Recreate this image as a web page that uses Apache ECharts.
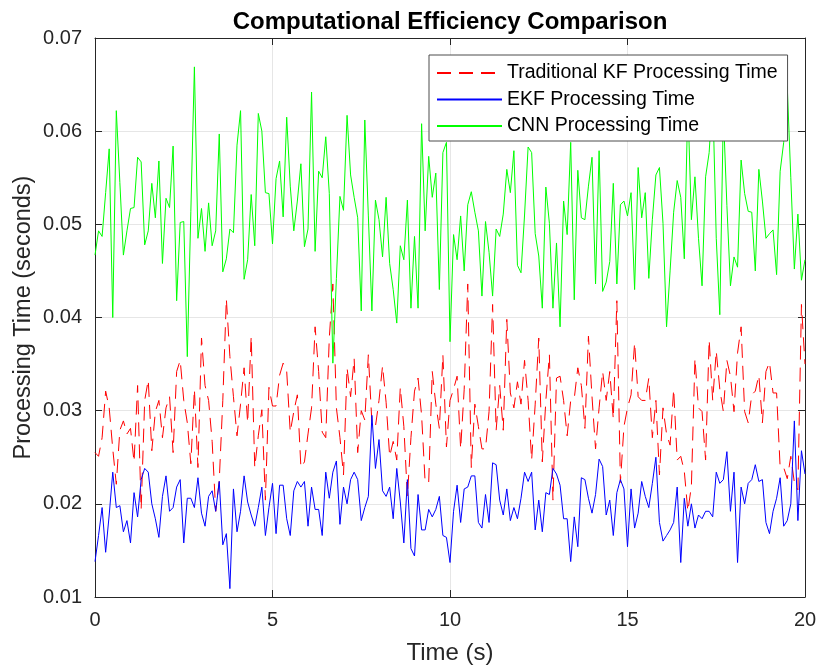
<!DOCTYPE html>
<html>
<head>
<meta charset="utf-8">
<title>Computational Efficiency Comparison</title>
<script src="https://cdn.jsdelivr.net/npm/echarts@6/dist/echarts.min.js"></script>
<style>
  html, body { margin: 0; padding: 0; background: #fff; }
  #chart { width: 819px; height: 665px; }
</style>
</head>
<body>
<div id="chart"></div>
<script>
// time grid: 0 .. 20 s, step 0.1 s
const timeSteps = Array.from({ length: 201 }, (_, i) => +(i * 0.1).toFixed(1));

const kfTimes = [
  0.0255, 0.0251, 0.0271, 0.0321, 0.0303, 0.0259, 0.0221, 0.0279, 0.0289, 0.0275,
  0.0281, 0.0245, 0.0327, 0.0194, 0.0311, 0.0333, 0.0257, 0.0299, 0.0311, 0.0271,
  0.0303, 0.0315, 0.0255, 0.0342, 0.0354, 0.0311, 0.0287, 0.0243, 0.0323, 0.0239,
  0.0378, 0.0327, 0.0311, 0.0267, 0.0192, 0.0225, 0.0311, 0.0420, 0.0358, 0.0315,
  0.0273, 0.0307, 0.0346, 0.0287, 0.0380, 0.0239, 0.0273, 0.0301, 0.0204, 0.0325,
  0.0305, 0.0305, 0.0338, 0.0351, 0.0342, 0.0277, 0.0299, 0.0317, 0.0239, 0.0245,
  0.0275, 0.0303, 0.0390, 0.0342, 0.0277, 0.0271, 0.0378, 0.0436, 0.0303, 0.0271,
  0.0231, 0.0346, 0.0315, 0.0356, 0.0255, 0.0300, 0.0290, 0.0360, 0.0287, 0.0283,
  0.0311, 0.0348, 0.0309, 0.0251, 0.0267, 0.0247, 0.0325, 0.0283, 0.0208, 0.0271,
  0.0321, 0.0335, 0.0295, 0.0223, 0.0223, 0.0342, 0.0307, 0.0281, 0.0360, 0.0261,
  0.0311, 0.0323, 0.0337, 0.0259, 0.0323, 0.0436, 0.0239, 0.0307, 0.0283, 0.0259,
  0.0259, 0.0299, 0.0414, 0.0279, 0.0327, 0.0279, 0.0398, 0.0319, 0.0303, 0.0331,
  0.0307, 0.0354, 0.0311, 0.0247, 0.0307, 0.0378, 0.0245, 0.0311, 0.0360, 0.0204,
  0.0335, 0.0337, 0.0311, 0.0273, 0.0311, 0.0313, 0.0346, 0.0327, 0.0281, 0.0380,
  0.0315, 0.0259, 0.0303, 0.0342, 0.0311, 0.0342, 0.0291, 0.0418, 0.0223, 0.0283,
  0.0303, 0.0317, 0.0373, 0.0315, 0.0311, 0.0311, 0.0335, 0.0271, 0.0311, 0.0231,
  0.0303, 0.0275, 0.0263, 0.0323, 0.0247, 0.0251, 0.0235, 0.0192, 0.0219, 0.0356,
  0.0303, 0.0299, 0.0247, 0.0376, 0.0311, 0.0364, 0.0323, 0.0299, 0.0354, 0.0337,
  0.0299, 0.0362, 0.0390, 0.0299, 0.0287, 0.0317, 0.0321, 0.0338, 0.0287, 0.0342,
  0.0352, 0.0319, 0.0319, 0.0239, 0.0239, 0.0227, 0.0251, 0.0223, 0.0215, 0.0414,
  0.0350
];

const ekfTimes = [
  0.0138, 0.0166, 0.0196, 0.0148, 0.0188, 0.0234, 0.0196, 0.0198, 0.0170, 0.0182,
  0.0158, 0.0212, 0.0186, 0.0226, 0.0238, 0.0234, 0.0200, 0.0184, 0.0164, 0.0208,
  0.0230, 0.0192, 0.0196, 0.0218, 0.0226, 0.0158, 0.0206, 0.0206, 0.0196, 0.0228,
  0.0190, 0.0176, 0.0208, 0.0214, 0.0192, 0.0224, 0.0156, 0.0168, 0.0109, 0.0216,
  0.0170, 0.0192, 0.0230, 0.0202, 0.0188, 0.0176, 0.0196, 0.0218, 0.0166, 0.0196,
  0.0222, 0.0168, 0.0220, 0.0220, 0.0184, 0.0166, 0.0214, 0.0224, 0.0218, 0.0224,
  0.0176, 0.0218, 0.0194, 0.0194, 0.0166, 0.0234, 0.0206, 0.0234, 0.0246, 0.0178,
  0.0218, 0.0200, 0.0226, 0.0234, 0.0226, 0.0182, 0.0196, 0.0208, 0.0295, 0.0238,
  0.0269, 0.0214, 0.0208, 0.0218, 0.0184, 0.0238, 0.0202, 0.0158, 0.0226, 0.0152,
  0.0144, 0.0210, 0.0172, 0.0172, 0.0194, 0.0186, 0.0194, 0.0208, 0.0166, 0.0164,
  0.0137, 0.0192, 0.0220, 0.0180, 0.0216, 0.0218, 0.0230, 0.0230, 0.0180, 0.0174,
  0.0210, 0.0180, 0.0244, 0.0242, 0.0204, 0.0188, 0.0216, 0.0182, 0.0196, 0.0184,
  0.0206, 0.0234, 0.0224, 0.0234, 0.0172, 0.0204, 0.0170, 0.0212, 0.0210, 0.0238,
  0.0232, 0.0220, 0.0184, 0.0184, 0.0138, 0.0186, 0.0154, 0.0228, 0.0226, 0.0206,
  0.0190, 0.0210, 0.0248, 0.0240, 0.0188, 0.0204, 0.0166, 0.0212, 0.0226, 0.0216,
  0.0154, 0.0216, 0.0174, 0.0190, 0.0224, 0.0208, 0.0196, 0.0222, 0.0250, 0.0180,
  0.0160, 0.0166, 0.0172, 0.0180, 0.0218, 0.0137, 0.0206, 0.0176, 0.0200, 0.0174,
  0.0188, 0.0184, 0.0192, 0.0192, 0.0186, 0.0234, 0.0222, 0.0226, 0.0256, 0.0192,
  0.0234, 0.0137, 0.0218, 0.0200, 0.0222, 0.0226, 0.0242, 0.0224, 0.0226, 0.0180,
  0.0168, 0.0192, 0.0206, 0.0228, 0.0176, 0.0182, 0.0200, 0.0289, 0.0182, 0.0257,
  0.0232
];

const cnnTimes = [
  0.0467, 0.0493, 0.0487, 0.0534, 0.0581, 0.0400, 0.0622, 0.0545, 0.0467, 0.0493,
  0.0517, 0.0518, 0.0572, 0.0567, 0.0478, 0.0493, 0.0544, 0.0507, 0.0568, 0.0458,
  0.0528, 0.0518, 0.0584, 0.0418, 0.0502, 0.0503, 0.0358, 0.0514, 0.0669, 0.0485,
  0.0517, 0.0471, 0.0523, 0.0477, 0.0493, 0.0597, 0.0449, 0.0463, 0.0495, 0.0491,
  0.0585, 0.0622, 0.0441, 0.0462, 0.0532, 0.0477, 0.0619, 0.0600, 0.0534, 0.0533,
  0.0479, 0.0549, 0.0568, 0.0508, 0.0615, 0.0541, 0.0493, 0.0525, 0.0565, 0.0476,
  0.0495, 0.0642, 0.0471, 0.0557, 0.0550, 0.0594, 0.0533, 0.0351, 0.0442, 0.0530,
  0.0515, 0.0617, 0.0553, 0.0529, 0.0507, 0.0407, 0.0612, 0.0509, 0.0407, 0.0526,
  0.0505, 0.0465, 0.0529, 0.0458, 0.0430, 0.0394, 0.0477, 0.0462, 0.0526, 0.0410,
  0.0487, 0.0410, 0.0608, 0.0493, 0.0573, 0.0529, 0.0555, 0.0430, 0.0577, 0.0588,
  0.0374, 0.0489, 0.0462, 0.0509, 0.0450, 0.0521, 0.0535, 0.0513, 0.0493, 0.0423,
  0.0503, 0.0470, 0.0423, 0.0495, 0.0487, 0.0511, 0.0559, 0.0534, 0.0579, 0.0456,
  0.0448, 0.0510, 0.0583, 0.0577, 0.0490, 0.0466, 0.0410, 0.0540, 0.0501, 0.0410,
  0.0480, 0.0390, 0.0525, 0.0489, 0.0588, 0.0419, 0.0558, 0.0507, 0.0505, 0.0541,
  0.0572, 0.0436, 0.0579, 0.0428, 0.0438, 0.0460, 0.0544, 0.0436, 0.0521, 0.0525,
  0.0509, 0.0534, 0.0430, 0.0561, 0.0507, 0.0534, 0.0442, 0.0505, 0.0553, 0.0561,
  0.0501, 0.0390, 0.0450, 0.0513, 0.0547, 0.0529, 0.0463, 0.0630, 0.0505, 0.0551,
  0.0485, 0.0434, 0.0551, 0.0577, 0.0640, 0.0485, 0.0403, 0.0620, 0.0520, 0.0434,
  0.0465, 0.0454, 0.0569, 0.0533, 0.0514, 0.0513, 0.0450, 0.0559, 0.0525, 0.0485,
  0.0490, 0.0494, 0.0446, 0.0557, 0.0588, 0.0648, 0.0550, 0.0452, 0.0511, 0.0440,
  0.0462
];

const xTicks = [0, 5, 10, 15, 20];
const yTicks = [0.01, 0.02, 0.03, 0.04, 0.05, 0.06, 0.07];

const FONT = "'Liberation Sans', Arial, sans-serif";
const AXIS_COLOR = '#262626';

const toPairs = (vals) => vals.map((v, i) => [timeSteps[i], v]);

function axisBase(extra) {
  return Object.assign({
    type: 'value',
    axisLine: { show: true, onZero: false, lineStyle: { color: AXIS_COLOR, width: 1 } },
    axisTick: { show: true, inside: true, length: 7, lineStyle: { color: AXIS_COLOR } },
    axisLabel: { show: false },
    splitLine: { show: false }
  }, extra);
}

const chart = echarts.init(document.getElementById('chart'));

chart.setOption({
  backgroundColor: '#fff',
  animation: false,
  textStyle: { fontFamily: FONT },
  title: {
    text: 'Computational Efficiency Comparison',
    left: 445,
    top: 5,
    textAlign: 'center',
    textStyle: { fontFamily: FONT, fontSize: 24, fontWeight: 'bold', color: '#000' }
  },
  // fixed plot box; do not let ECharts shrink it to fit the axis names
  grid: { left: 95, right: 14, top: 38, bottom: 68, outerBoundsMode: 'none', containLabel: false },
  legend: {
    orient: 'vertical',
    left: 429,
    top: 55,
    padding: [8, 10, 5, 7],
    itemGap: 6.5,
    itemWidth: 65,
    itemHeight: 14,
    backgroundColor: '#fff',
    borderColor: '#4d4d4d',
    borderWidth: 1,
    // hide the marker dot that line-series legend icons carry
    itemStyle: { color: 'rgba(0,0,0,0)', borderWidth: 0, opacity: 0 },
    textStyle: { fontFamily: FONT, fontSize: 19.5, color: '#000', lineHeight: 20 },
    data: ['Traditional KF Processing Time', 'EKF Processing Time', 'CNN Processing Time']
  },
  xAxis: [
    axisBase({
      position: 'bottom',
      min: xTicks[0],
      max: xTicks[xTicks.length - 1],
      interval: 5,
      name: 'Time (s)',
      nameLocation: 'middle',
      nameGap: 44,
      nameMoveOverlap: false,
      nameTextStyle: { fontFamily: FONT, fontSize: 24, color: AXIS_COLOR },
      axisLabel: { show: true, color: AXIS_COLOR, fontSize: 20, margin: 13, fontFamily: FONT },
      splitLine: { show: true, lineStyle: { color: '#e6e6e6', width: 1 } }
    }),
    axisBase({ position: 'top', min: 0, max: 20, interval: 5 })
  ],
  yAxis: [
    axisBase({
      position: 'left',
      min: yTicks[0],
      max: yTicks[yTicks.length - 1],
      interval: 0.01,
      name: 'Processing Time (seconds)',
      nameLocation: 'middle',
      nameGap: 59,
      nameMoveOverlap: false,
      nameTextStyle: { fontFamily: FONT, fontSize: 23.5, color: AXIS_COLOR },
      axisLabel: {
        show: true, color: AXIS_COLOR, fontSize: 20, margin: 13, fontFamily: FONT,
        formatter: (v) => v.toFixed(2)
      },
      splitLine: { show: true, lineStyle: { color: '#e6e6e6', width: 1 } }
    }),
    axisBase({ position: 'right', min: 0.01, max: 0.07, interval: 0.01 })
  ],
  series: [
    {
      name: 'Traditional KF Processing Time',
      type: 'line',
      data: toPairs(kfTimes),
      showSymbol: false,
      lineStyle: { color: '#ff0000', width: 1, type: [14, 8] },
      itemStyle: { color: '#ff0000' }
    },
    {
      name: 'EKF Processing Time',
      type: 'line',
      data: toPairs(ekfTimes),
      showSymbol: false,
      lineStyle: { color: '#0000ff', width: 1 },
      itemStyle: { color: '#0000ff' }
    },
    {
      name: 'CNN Processing Time',
      type: 'line',
      data: toPairs(cnnTimes),
      showSymbol: false,
      lineStyle: { color: '#00ff00', width: 1 },
      itemStyle: { color: '#00ff00' }
    }
  ]
});
</script>
</body>
</html>
